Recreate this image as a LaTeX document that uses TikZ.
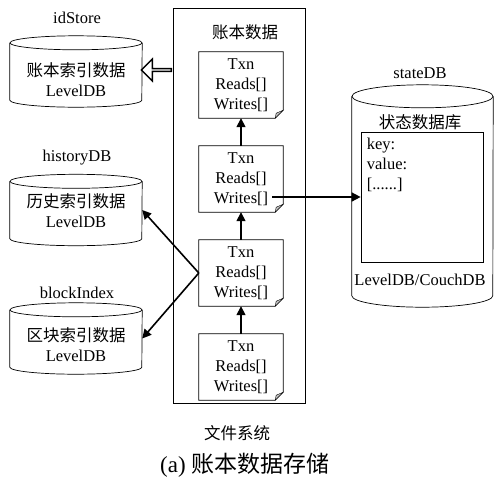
\documentclass[tikz,border=0pt]{standalone}
\usepackage{fontspec}
\setmainfont{Liberation Serif}
\newfontfamily\cjk{Noto Sans CJK SC}
\usetikzlibrary{shapes.geometric,shapes.arrows,arrows.meta,positioning}

\tikzset{
    every node/.style = {font=\fontsize{16.5}{20}\selectfont},
    dbcyl/.style n args = {3}{rectangle, minimum width=#1, minimum height=#2, inner sep=0pt,
        append after command={\pgfextra{\begin{pgfinterruptpath}
            \draw[line width=0.7pt] ([yshift=-#3]\tikzlastnode.north) ellipse [x radius=#1/2, y radius=#3];
            \draw[line width=0.7pt] ([yshift=-#3]\tikzlastnode.north west) -- ([yshift=#3]\tikzlastnode.south west)
                arc [start angle=180, end angle=360, x radius=#1/2, y radius=#3] -- ([yshift=-#3]\tikzlastnode.north east);
        \end{pgfinterruptpath}}}},
    smallcyl/.style = {dbcyl={132pt}{71pt}{7pt}},
    bigcyl/.style = {dbcyl={141pt}{222pt}{11.5pt}},
    dbtext/.style = {align=center, inner sep=0pt},
    txnbox/.style = {rectangle, minimum width=84pt, minimum height=66pt, align=center, inner sep=0pt,
        append after command={\pgfextra{\begin{pgfinterruptpath}
            \draw[line width=0.7pt] (\tikzlastnode.north west) -- (\tikzlastnode.north east) -- ([yshift=8pt]\tikzlastnode.south east) -- ([xshift=-8pt]\tikzlastnode.south east) -- (\tikzlastnode.south west) -- cycle;
            \filldraw[fill=gray!50, line width=0.4pt] ([yshift=8pt]\tikzlastnode.south east) -- ([xshift=-8pt]\tikzlastnode.south east) -- ([xshift=-7pt,yshift=5pt]\tikzlastnode.south east) -- cycle;
        \end{pgfinterruptpath}}}},
    arrow/.style = {line width=1.6pt, -{Triangle[length=9pt,width=9pt]}},
    hollow/.style = {single arrow, draw, line width=1.4pt, shape border rotate=180, minimum height=30pt, minimum width=22pt, single arrow head extend=5pt, inner sep=0pt}
}

\begin{document}
\begin{tikzpicture}[x=1pt, y=-1pt, node distance=94pt]
\useasboundingbox (0,0) rectangle (495,477);

% left databases
\node (idStore) [smallcyl] at (76,71.5) {};
\node (histDB) [smallcyl] at (76,210) {};
\node (blockIdx) [smallcyl] at (76,338.5) {};
\node (idlbl) at (77,18) {idStore};
\node (histlbl) at (77,158) {historyDB};
\node (blocklbl) at (77,293) {blockIndex};
\node (idtxt) [dbtext] at (76,80) {{\cjk 账本索引数据}\\LevelDB};
\node (histtxt) [dbtext] at (76,211) {{\cjk 历史索引数据}\\LevelDB};
\node (blocktxt) [dbtext] at (76,345) {{\cjk 区块索引数据}\\LevelDB};

% ledger file system
\node (ledger) [draw, line width=0.7pt, minimum width=132pt, minimum height=395pt] at (239,205.5) {};
\node (ledgerlbl) at (245,32) {\cjk 账本数据};
\node (t1) [txnbox] at (241,85) {Txn\\Reads[]\\Writes[]};
\node (t2) [txnbox, below of=t1] {Txn\\Reads[]\\Writes[]};
\node (t3) [txnbox, below of=t2] {Txn\\Reads[]\\Writes[]};
\node (t4) [txnbox, below of=t3] {Txn\\Reads[]\\Writes[]};
\node (fslbl) at (237,433) {\cjk 文件系统};

% state database
\node (stateDB) [bigcyl] at (422.5,196) {};
\node (statelbl) at (420,73) {stateDB};
\node (statetxt) at (420,122) {\cjk 状态数据库};
\node (kv) [draw, line width=0.7pt, minimum width=122pt, minimum height=130pt] at (422,197) {};
\node (kvtxt) [anchor=north west, align=left, inner sep=0pt] at ([xshift=6pt,yshift=-6pt]kv.north west) {key:\\value:\\{[......]}};
\node (couch) at (420,280) {LevelDB/CouchDB};

\node (caption) at (245,465) {\fontsize{23}{26}\selectfont (a)\hspace{6pt}{\cjk 账本数据存储}};

% connectors
\node (idarr) [hollow] at (157,70) {};
\coordinate (w2) at (272,197);
\draw [arrow] (t2) -- (t1);
\draw [arrow] (t3) -- (t2);
\draw [arrow] (t4) -- (t3);
\draw [arrow] (w2) -- (kv.west);
\draw [arrow] (t3.west) -- (histDB.east);
\draw [arrow] (t3.west) -- (blockIdx.east);
\end{tikzpicture}
\end{document}
